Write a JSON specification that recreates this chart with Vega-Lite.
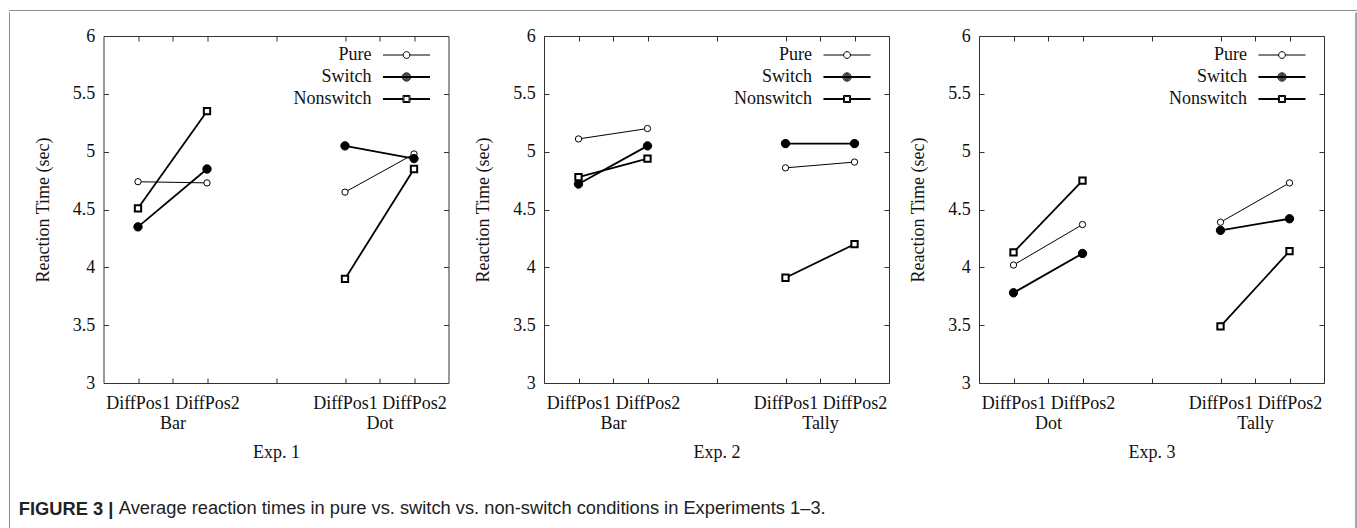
{
  "$schema": "https://vega.github.io/schema/vega-lite/v6.json",
  "padding": {"left": 8, "top": 9, "right": 0, "bottom": 0},
  "background": "white",
  "datasets": {
    "rt": [
      {"exp": "Exp. 1", "display": "Bar", "pos": "DiffPos1", "cond": "Bar DiffPos1", "series": "Pure", "rt": 4.74},
      {"exp": "Exp. 1", "display": "Bar", "pos": "DiffPos2", "cond": "Bar DiffPos2", "series": "Pure", "rt": 4.73},
      {"exp": "Exp. 1", "display": "Dot", "pos": "DiffPos1", "cond": "Dot DiffPos1", "series": "Pure", "rt": 4.65},
      {"exp": "Exp. 1", "display": "Dot", "pos": "DiffPos2", "cond": "Dot DiffPos2", "series": "Pure", "rt": 4.98},
      {"exp": "Exp. 1", "display": "Bar", "pos": "DiffPos1", "cond": "Bar DiffPos1", "series": "Switch", "rt": 4.35},
      {"exp": "Exp. 1", "display": "Bar", "pos": "DiffPos2", "cond": "Bar DiffPos2", "series": "Switch", "rt": 4.85},
      {"exp": "Exp. 1", "display": "Dot", "pos": "DiffPos1", "cond": "Dot DiffPos1", "series": "Switch", "rt": 5.05},
      {"exp": "Exp. 1", "display": "Dot", "pos": "DiffPos2", "cond": "Dot DiffPos2", "series": "Switch", "rt": 4.94},
      {"exp": "Exp. 1", "display": "Bar", "pos": "DiffPos1", "cond": "Bar DiffPos1", "series": "Nonswitch", "rt": 4.51},
      {"exp": "Exp. 1", "display": "Bar", "pos": "DiffPos2", "cond": "Bar DiffPos2", "series": "Nonswitch", "rt": 5.35},
      {"exp": "Exp. 1", "display": "Dot", "pos": "DiffPos1", "cond": "Dot DiffPos1", "series": "Nonswitch", "rt": 3.90},
      {"exp": "Exp. 1", "display": "Dot", "pos": "DiffPos2", "cond": "Dot DiffPos2", "series": "Nonswitch", "rt": 4.85},
      {"exp": "Exp. 2", "display": "Bar", "pos": "DiffPos1", "cond": "Bar DiffPos1", "series": "Pure", "rt": 5.11},
      {"exp": "Exp. 2", "display": "Bar", "pos": "DiffPos2", "cond": "Bar DiffPos2", "series": "Pure", "rt": 5.20},
      {"exp": "Exp. 2", "display": "Tally", "pos": "DiffPos1", "cond": "Tally DiffPos1", "series": "Pure", "rt": 4.86},
      {"exp": "Exp. 2", "display": "Tally", "pos": "DiffPos2", "cond": "Tally DiffPos2", "series": "Pure", "rt": 4.91},
      {"exp": "Exp. 2", "display": "Bar", "pos": "DiffPos1", "cond": "Bar DiffPos1", "series": "Switch", "rt": 4.72},
      {"exp": "Exp. 2", "display": "Bar", "pos": "DiffPos2", "cond": "Bar DiffPos2", "series": "Switch", "rt": 5.05},
      {"exp": "Exp. 2", "display": "Tally", "pos": "DiffPos1", "cond": "Tally DiffPos1", "series": "Switch", "rt": 5.07},
      {"exp": "Exp. 2", "display": "Tally", "pos": "DiffPos2", "cond": "Tally DiffPos2", "series": "Switch", "rt": 5.07},
      {"exp": "Exp. 2", "display": "Bar", "pos": "DiffPos1", "cond": "Bar DiffPos1", "series": "Nonswitch", "rt": 4.78},
      {"exp": "Exp. 2", "display": "Bar", "pos": "DiffPos2", "cond": "Bar DiffPos2", "series": "Nonswitch", "rt": 4.94},
      {"exp": "Exp. 2", "display": "Tally", "pos": "DiffPos1", "cond": "Tally DiffPos1", "series": "Nonswitch", "rt": 3.91},
      {"exp": "Exp. 2", "display": "Tally", "pos": "DiffPos2", "cond": "Tally DiffPos2", "series": "Nonswitch", "rt": 4.20},
      {"exp": "Exp. 3", "display": "Dot", "pos": "DiffPos1", "cond": "Dot DiffPos1", "series": "Pure", "rt": 4.02},
      {"exp": "Exp. 3", "display": "Dot", "pos": "DiffPos2", "cond": "Dot DiffPos2", "series": "Pure", "rt": 4.37},
      {"exp": "Exp. 3", "display": "Tally", "pos": "DiffPos1", "cond": "Tally DiffPos1", "series": "Pure", "rt": 4.39},
      {"exp": "Exp. 3", "display": "Tally", "pos": "DiffPos2", "cond": "Tally DiffPos2", "series": "Pure", "rt": 4.73},
      {"exp": "Exp. 3", "display": "Dot", "pos": "DiffPos1", "cond": "Dot DiffPos1", "series": "Switch", "rt": 3.78},
      {"exp": "Exp. 3", "display": "Dot", "pos": "DiffPos2", "cond": "Dot DiffPos2", "series": "Switch", "rt": 4.12},
      {"exp": "Exp. 3", "display": "Tally", "pos": "DiffPos1", "cond": "Tally DiffPos1", "series": "Switch", "rt": 4.32},
      {"exp": "Exp. 3", "display": "Tally", "pos": "DiffPos2", "cond": "Tally DiffPos2", "series": "Switch", "rt": 4.42},
      {"exp": "Exp. 3", "display": "Dot", "pos": "DiffPos1", "cond": "Dot DiffPos1", "series": "Nonswitch", "rt": 4.13},
      {"exp": "Exp. 3", "display": "Dot", "pos": "DiffPos2", "cond": "Dot DiffPos2", "series": "Nonswitch", "rt": 4.75},
      {"exp": "Exp. 3", "display": "Tally", "pos": "DiffPos1", "cond": "Tally DiffPos1", "series": "Nonswitch", "rt": 3.49},
      {"exp": "Exp. 3", "display": "Tally", "pos": "DiffPos2", "cond": "Tally DiffPos2", "series": "Nonswitch", "rt": 4.14}
    ]
  },
  "config": {
    "view": {"stroke": "#333333", "strokeWidth": 1},
    "axis": {
      "labelFont": "Liberation Serif", "labelFontSize": 18, "labelColor": "#111111",
      "titleFont": "Liberation Serif", "titleFontSize": 18, "titleFontWeight": "normal", "titleColor": "#111111",
      "domain": false, "grid": false, "tickColor": "#333333", "tickSize": -5, "tickWidth": 1
    },
    "legend": {"labelFont": "Liberation Serif", "labelFontSize": 18, "labelColor": "#111111"},
    "title": {"font": "Liberation Sans", "fontSize": 18.3, "color": "#222222"}
  },
  "spacing": 0,
  "vconcat": [
    {
      "width": 1347, "height": 0.01,
      "view": {"stroke": "#8a8a8a"},
      "data": {"values": [{}]},
      "mark": {"type": "point", "opacity": 0, "size": 0}
    },
    {
      "spacing": 8.5,
      "hconcat": [
        {
          "width": 0.01, "height": 517,
          "view": {"stroke": "#8a8a8a"},
          "data": {"values": [{}]},
          "mark": {"type": "point", "opacity": 0, "size": 0}
        },
        {
          "spacing": 29,
          "hconcat": [
            {
              "spacing": 13,
              "title": {"text": "Average reaction times in pure vs. switch vs. non-switch conditions in Experiments 1–3.", "orient": "bottom", "anchor": "start", "fontWeight": "normal", "offset": -18.3, "dx": 100},
              "vconcat": [
                {
                  "width": 0.01, "height": 0.01,
                  "view": {"stroke": null},
                  "data": {"values": [{}]},
                  "mark": {"type": "point", "opacity": 0, "size": 0}
                },
                {
                  "spacing": 24.5,
                  "title": {"text": "FIGURE 3 |", "orient": "bottom", "anchor": "start", "fontWeight": "bold", "offset": 39, "dx": -15},
                  "resolve": {"scale": {"shape": "independent"}, "legend": {"shape": "independent"}},
                  "hconcat": [
                    {
                      "width": 345, "height": 347,
                      "data": {"name": "rt"},
                      "transform": [{"filter": "datum.exp == 'Exp. 1'"}],
                      "resolve": {"axis": {"x": "independent", "y": "independent"}},
                      "layer": [
                        {
                          "mark": {"type": "line", "color": "black"},
                          "encoding": {
                            "x": {"field": "cond", "type": "nominal", "scale": {"type": "point", "padding": 1, "domain": ["Bar DiffPos1", "Bar", "Bar DiffPos2", "g1", "g2", "g3", "Dot DiffPos1", "Dot", "Dot DiffPos2"]},
                              "axis": {"orient": "bottom", "values": ["Bar DiffPos1", "Bar", "Bar DiffPos2", "g2", "Dot DiffPos1", "Dot", "Dot DiffPos2"],
                                "labelExpr": "datum.value == 'Bar' || datum.value == 'Dot' || datum.value == 'Tally' ? ['', datum.value] : (indexof(datum.value, 'DiffPos') >= 0 ? substring(datum.value, indexof(datum.value, 'DiffPos')) : '')",
                                "labelAngle": 0, "labelAlign": "center", "labelBaseline": "top", "labelPadding": 16.5, "labelLineHeight": 20, "labelOverlap": false, "title": "Exp. 1", "titlePadding": 10.5}},
                            "y": {"field": "rt", "type": "quantitative", "scale": {"domain": [3, 6], "nice": false, "zero": false},
                              "axis": {"orient": "left", "values": [3, 3.5, 4, 4.5, 5, 5.5, 6], "format": "~g", "labelPadding": 13.7, "title": "Reaction Time (sec)", "titlePadding": 20}},
                            "detail": [{"field": "series"}, {"field": "display"}],
                            "strokeWidth": {"condition": {"test": "datum.series == 'Pure'", "value": 1}, "value": 1.8}
                          }
                        },
                        {
                          "mark": {"type": "point", "stroke": "black", "opacity": 1},
                          "encoding": {
                            "x": {"field": "cond", "type": "nominal", "scale": {"type": "point", "padding": 1, "domain": ["Bar DiffPos1", "Bar", "Bar DiffPos2", "g1", "g2", "g3", "Dot DiffPos1", "Dot", "Dot DiffPos2"]}, "axis": null},
                            "y": {"field": "rt", "type": "quantitative", "scale": {"domain": [3, 6], "nice": false, "zero": false}, "axis": null},
                            "shape": {"condition": {"test": "datum.series == 'Nonswitch'", "value": "square"}, "value": "circle"},
                            "fill": {"condition": {"test": "datum.series == 'Switch'", "value": "black"}, "value": "white"},
                            "size": {"condition": [{"test": "datum.series == 'Pure'", "value": 40}, {"test": "datum.series == 'Switch'", "value": 70}], "value": 40},
                            "strokeWidth": {"condition": {"test": "datum.series == 'Nonswitch'", "value": 2}, "value": 1}
                          }
                        },
                        {
                          "transform": [{"filter": "false"}],
                          "mark": {"type": "point", "stroke": "black", "fill": "white", "filled": false, "opacity": 1, "strokeWidth": 1},
                          "encoding": {
                            "x": {"field": "cond", "type": "nominal", "scale": {"type": "point", "padding": 1, "domain": ["Bar DiffPos1", "Bar", "Bar DiffPos2", "g1", "g2", "g3", "Dot DiffPos1", "Dot", "Dot DiffPos2"]},
                              "axis": {"orient": "top", "values": ["Bar DiffPos1", "Bar", "Bar DiffPos2", "g2", "Dot DiffPos1", "Dot", "Dot DiffPos2"], "labels": false, "title": null}},
                            "y": {"field": "rt", "type": "quantitative", "scale": {"domain": [3, 6], "nice": false, "zero": false},
                              "axis": {"orient": "right", "values": [3, 3.5, 4, 4.5, 5, 5.5, 6], "labels": false, "title": null}},
                            "shape": {"field": "series", "type": "nominal",
                              "scale": {"domain": ["Pure", "Switch", "Nonswitch"], "range": [
                                "M-2.94,0L-0.42,0M0.42,0L2.94,0M-0.42,0A0.42,0.42,0,1,1,0.42,0A0.42,0.42,0,1,1,-0.42,0Z",
                                "M-2.94,-0.06L2.94,-0.06M-2.94,0.06L2.94,0.06M-0.52,0A0.52,0.52,0,1,1,0.52,0A0.52,0.52,0,1,1,-0.52,0ZM-0.4,0A0.4,0.4,0,1,1,0.4,0A0.4,0.4,0,1,1,-0.4,0ZM-0.28,0A0.28,0.28,0,1,1,0.28,0A0.28,0.28,0,1,1,-0.28,0ZM-0.16,0A0.16,0.16,0,1,1,0.16,0A0.16,0.16,0,1,1,-0.16,0ZM-0.05,0A0.05,0.05,0,1,1,0.05,0A0.05,0.05,0,1,1,-0.05,0Z",
                                "M-2.94,-0.06L-0.44,-0.06M-2.94,0.06L-0.44,0.06M0.44,-0.06L2.94,-0.06M0.44,0.06L2.94,0.06M-0.44,-0.44L0.44,-0.44L0.44,0.44L-0.44,0.44ZM-0.32,-0.32L0.32,-0.32L0.32,0.32L-0.32,0.32Z"]},
                              "legend": {"orient": "none", "legendX": 294, "legendY": 10, "title": null, "labelAlign": "right", "labelOffset": -44, "symbolSize": 256, "symbolStrokeWidth": 1, "rowPadding": 4, "padding": 0, "labelLimit": 0}}
                          }
                        }
                      ]
                    },
                    {
                      "spacing": 19,
                      "resolve": {"scale": {"shape": "independent"}, "legend": {"shape": "independent"}},
                      "hconcat": [
                        {
                          "width": 345, "height": 347,
                          "data": {"name": "rt"},
                          "transform": [{"filter": "datum.exp == 'Exp. 2'"}],
                          "resolve": {"axis": {"x": "independent", "y": "independent"}},
                          "layer": [
                            {
                              "mark": {"type": "line", "color": "black"},
                              "encoding": {
                                "x": {"field": "cond", "type": "nominal", "scale": {"type": "point", "padding": 1, "domain": ["Bar DiffPos1", "Bar", "Bar DiffPos2", "g1", "g2", "g3", "Tally DiffPos1", "Tally", "Tally DiffPos2"]},
                                  "axis": {"orient": "bottom", "values": ["Bar DiffPos1", "Bar", "Bar DiffPos2", "g2", "Tally DiffPos1", "Tally", "Tally DiffPos2"],
                                    "labelExpr": "datum.value == 'Bar' || datum.value == 'Dot' || datum.value == 'Tally' ? ['', datum.value] : (indexof(datum.value, 'DiffPos') >= 0 ? substring(datum.value, indexof(datum.value, 'DiffPos')) : '')",
                                    "labelAngle": 0, "labelAlign": "center", "labelBaseline": "top", "labelPadding": 16.5, "labelLineHeight": 20, "labelOverlap": false, "title": "Exp. 2", "titlePadding": 10.5}},
                                "y": {"field": "rt", "type": "quantitative", "scale": {"domain": [3, 6], "nice": false, "zero": false},
                                  "axis": {"orient": "left", "values": [3, 3.5, 4, 4.5, 5, 5.5, 6], "format": "~g", "labelPadding": 13.7, "title": "Reaction Time (sec)", "titlePadding": 20}},
                                "detail": [{"field": "series"}, {"field": "display"}],
                                "strokeWidth": {"condition": {"test": "datum.series == 'Pure'", "value": 1}, "value": 1.8}
                              }
                            },
                            {
                              "mark": {"type": "point", "stroke": "black", "opacity": 1},
                              "encoding": {
                                "x": {"field": "cond", "type": "nominal", "scale": {"type": "point", "padding": 1, "domain": ["Bar DiffPos1", "Bar", "Bar DiffPos2", "g1", "g2", "g3", "Tally DiffPos1", "Tally", "Tally DiffPos2"]}, "axis": null},
                                "y": {"field": "rt", "type": "quantitative", "scale": {"domain": [3, 6], "nice": false, "zero": false}, "axis": null},
                                "shape": {"condition": {"test": "datum.series == 'Nonswitch'", "value": "square"}, "value": "circle"},
                                "fill": {"condition": {"test": "datum.series == 'Switch'", "value": "black"}, "value": "white"},
                                "size": {"condition": [{"test": "datum.series == 'Pure'", "value": 40}, {"test": "datum.series == 'Switch'", "value": 70}], "value": 40},
                                "strokeWidth": {"condition": {"test": "datum.series == 'Nonswitch'", "value": 2}, "value": 1}
                              }
                            },
                            {
                              "transform": [{"filter": "false"}],
                              "mark": {"type": "point", "stroke": "black", "fill": "white", "filled": false, "opacity": 1, "strokeWidth": 1},
                              "encoding": {
                                "x": {"field": "cond", "type": "nominal", "scale": {"type": "point", "padding": 1, "domain": ["Bar DiffPos1", "Bar", "Bar DiffPos2", "g1", "g2", "g3", "Tally DiffPos1", "Tally", "Tally DiffPos2"]},
                                  "axis": {"orient": "top", "values": ["Bar DiffPos1", "Bar", "Bar DiffPos2", "g2", "Tally DiffPos1", "Tally", "Tally DiffPos2"], "labels": false, "title": null}},
                                "y": {"field": "rt", "type": "quantitative", "scale": {"domain": [3, 6], "nice": false, "zero": false},
                                  "axis": {"orient": "right", "values": [3, 3.5, 4, 4.5, 5, 5.5, 6], "labels": false, "title": null}},
                                "shape": {"field": "series", "type": "nominal",
                                  "scale": {"domain": ["Pure", "Switch", "Nonswitch"], "range": [
                                    "M-2.94,0L-0.42,0M0.42,0L2.94,0M-0.42,0A0.42,0.42,0,1,1,0.42,0A0.42,0.42,0,1,1,-0.42,0Z",
                                    "M-2.94,-0.06L2.94,-0.06M-2.94,0.06L2.94,0.06M-0.52,0A0.52,0.52,0,1,1,0.52,0A0.52,0.52,0,1,1,-0.52,0ZM-0.4,0A0.4,0.4,0,1,1,0.4,0A0.4,0.4,0,1,1,-0.4,0ZM-0.28,0A0.28,0.28,0,1,1,0.28,0A0.28,0.28,0,1,1,-0.28,0ZM-0.16,0A0.16,0.16,0,1,1,0.16,0A0.16,0.16,0,1,1,-0.16,0ZM-0.05,0A0.05,0.05,0,1,1,0.05,0A0.05,0.05,0,1,1,-0.05,0Z",
                                    "M-2.94,-0.06L-0.44,-0.06M-2.94,0.06L-0.44,0.06M0.44,-0.06L2.94,-0.06M0.44,0.06L2.94,0.06M-0.44,-0.44L0.44,-0.44L0.44,0.44L-0.44,0.44ZM-0.32,-0.32L0.32,-0.32L0.32,0.32L-0.32,0.32Z"]},
                                  "legend": {"orient": "none", "legendX": 294, "legendY": 10, "title": null, "labelAlign": "right", "labelOffset": -44, "symbolSize": 256, "symbolStrokeWidth": 1, "rowPadding": 4, "padding": 0, "labelLimit": 0}}
                              }
                            }
                          ]
                        },
                        {
                          "width": 345, "height": 347,
                          "data": {"name": "rt"},
                          "transform": [{"filter": "datum.exp == 'Exp. 3'"}],
                          "resolve": {"axis": {"x": "independent", "y": "independent"}},
                          "layer": [
                            {
                              "mark": {"type": "line", "color": "black"},
                              "encoding": {
                                "x": {"field": "cond", "type": "nominal", "scale": {"type": "point", "padding": 1, "domain": ["Dot DiffPos1", "Dot", "Dot DiffPos2", "g1", "g2", "g3", "Tally DiffPos1", "Tally", "Tally DiffPos2"]},
                                  "axis": {"orient": "bottom", "values": ["Dot DiffPos1", "Dot", "Dot DiffPos2", "g2", "Tally DiffPos1", "Tally", "Tally DiffPos2"],
                                    "labelExpr": "datum.value == 'Bar' || datum.value == 'Dot' || datum.value == 'Tally' ? ['', datum.value] : (indexof(datum.value, 'DiffPos') >= 0 ? substring(datum.value, indexof(datum.value, 'DiffPos')) : '')",
                                    "labelAngle": 0, "labelAlign": "center", "labelBaseline": "top", "labelPadding": 16.5, "labelLineHeight": 20, "labelOverlap": false, "title": "Exp. 3", "titlePadding": 10.5}},
                                "y": {"field": "rt", "type": "quantitative", "scale": {"domain": [3, 6], "nice": false, "zero": false},
                                  "axis": {"orient": "left", "values": [3, 3.5, 4, 4.5, 5, 5.5, 6], "format": "~g", "labelPadding": 13.7, "title": "Reaction Time (sec)", "titlePadding": 20}},
                                "detail": [{"field": "series"}, {"field": "display"}],
                                "strokeWidth": {"condition": {"test": "datum.series == 'Pure'", "value": 1}, "value": 1.8}
                              }
                            },
                            {
                              "mark": {"type": "point", "stroke": "black", "opacity": 1},
                              "encoding": {
                                "x": {"field": "cond", "type": "nominal", "scale": {"type": "point", "padding": 1, "domain": ["Dot DiffPos1", "Dot", "Dot DiffPos2", "g1", "g2", "g3", "Tally DiffPos1", "Tally", "Tally DiffPos2"]}, "axis": null},
                                "y": {"field": "rt", "type": "quantitative", "scale": {"domain": [3, 6], "nice": false, "zero": false}, "axis": null},
                                "shape": {"condition": {"test": "datum.series == 'Nonswitch'", "value": "square"}, "value": "circle"},
                                "fill": {"condition": {"test": "datum.series == 'Switch'", "value": "black"}, "value": "white"},
                                "size": {"condition": [{"test": "datum.series == 'Pure'", "value": 40}, {"test": "datum.series == 'Switch'", "value": 70}], "value": 40},
                                "strokeWidth": {"condition": {"test": "datum.series == 'Nonswitch'", "value": 2}, "value": 1}
                              }
                            },
                            {
                              "transform": [{"filter": "false"}],
                              "mark": {"type": "point", "stroke": "black", "fill": "white", "filled": false, "opacity": 1, "strokeWidth": 1},
                              "encoding": {
                                "x": {"field": "cond", "type": "nominal", "scale": {"type": "point", "padding": 1, "domain": ["Dot DiffPos1", "Dot", "Dot DiffPos2", "g1", "g2", "g3", "Tally DiffPos1", "Tally", "Tally DiffPos2"]},
                                  "axis": {"orient": "top", "values": ["Dot DiffPos1", "Dot", "Dot DiffPos2", "g2", "Tally DiffPos1", "Tally", "Tally DiffPos2"], "labels": false, "title": null}},
                                "y": {"field": "rt", "type": "quantitative", "scale": {"domain": [3, 6], "nice": false, "zero": false},
                                  "axis": {"orient": "right", "values": [3, 3.5, 4, 4.5, 5, 5.5, 6], "labels": false, "title": null}},
                                "shape": {"field": "series", "type": "nominal",
                                  "scale": {"domain": ["Pure", "Switch", "Nonswitch"], "range": [
                                    "M-2.94,0L-0.42,0M0.42,0L2.94,0M-0.42,0A0.42,0.42,0,1,1,0.42,0A0.42,0.42,0,1,1,-0.42,0Z",
                                    "M-2.94,-0.06L2.94,-0.06M-2.94,0.06L2.94,0.06M-0.52,0A0.52,0.52,0,1,1,0.52,0A0.52,0.52,0,1,1,-0.52,0ZM-0.4,0A0.4,0.4,0,1,1,0.4,0A0.4,0.4,0,1,1,-0.4,0ZM-0.28,0A0.28,0.28,0,1,1,0.28,0A0.28,0.28,0,1,1,-0.28,0ZM-0.16,0A0.16,0.16,0,1,1,0.16,0A0.16,0.16,0,1,1,-0.16,0ZM-0.05,0A0.05,0.05,0,1,1,0.05,0A0.05,0.05,0,1,1,-0.05,0Z",
                                    "M-2.94,-0.06L-0.44,-0.06M-2.94,0.06L-0.44,0.06M0.44,-0.06L2.94,-0.06M0.44,0.06L2.94,0.06M-0.44,-0.44L0.44,-0.44L0.44,0.44L-0.44,0.44ZM-0.32,-0.32L0.32,-0.32L0.32,0.32L-0.32,0.32Z"]},
                                  "legend": {"orient": "none", "legendX": 294, "legendY": 10, "title": null, "labelAlign": "right", "labelOffset": -44, "symbolSize": 256, "symbolStrokeWidth": 1, "rowPadding": 4, "padding": 0, "labelLimit": 0}}
                              }
                            }
                          ]
                        }
                      ]
                    }
                  ]
                }
              ]
            },
            {
              "width": 0.01, "height": 517,
              "view": {"stroke": "#8a8a8a"},
              "data": {"values": [{}]},
              "mark": {"type": "point", "opacity": 0, "size": 0}
            }
          ]
        }
      ]
    }
  ]
}
